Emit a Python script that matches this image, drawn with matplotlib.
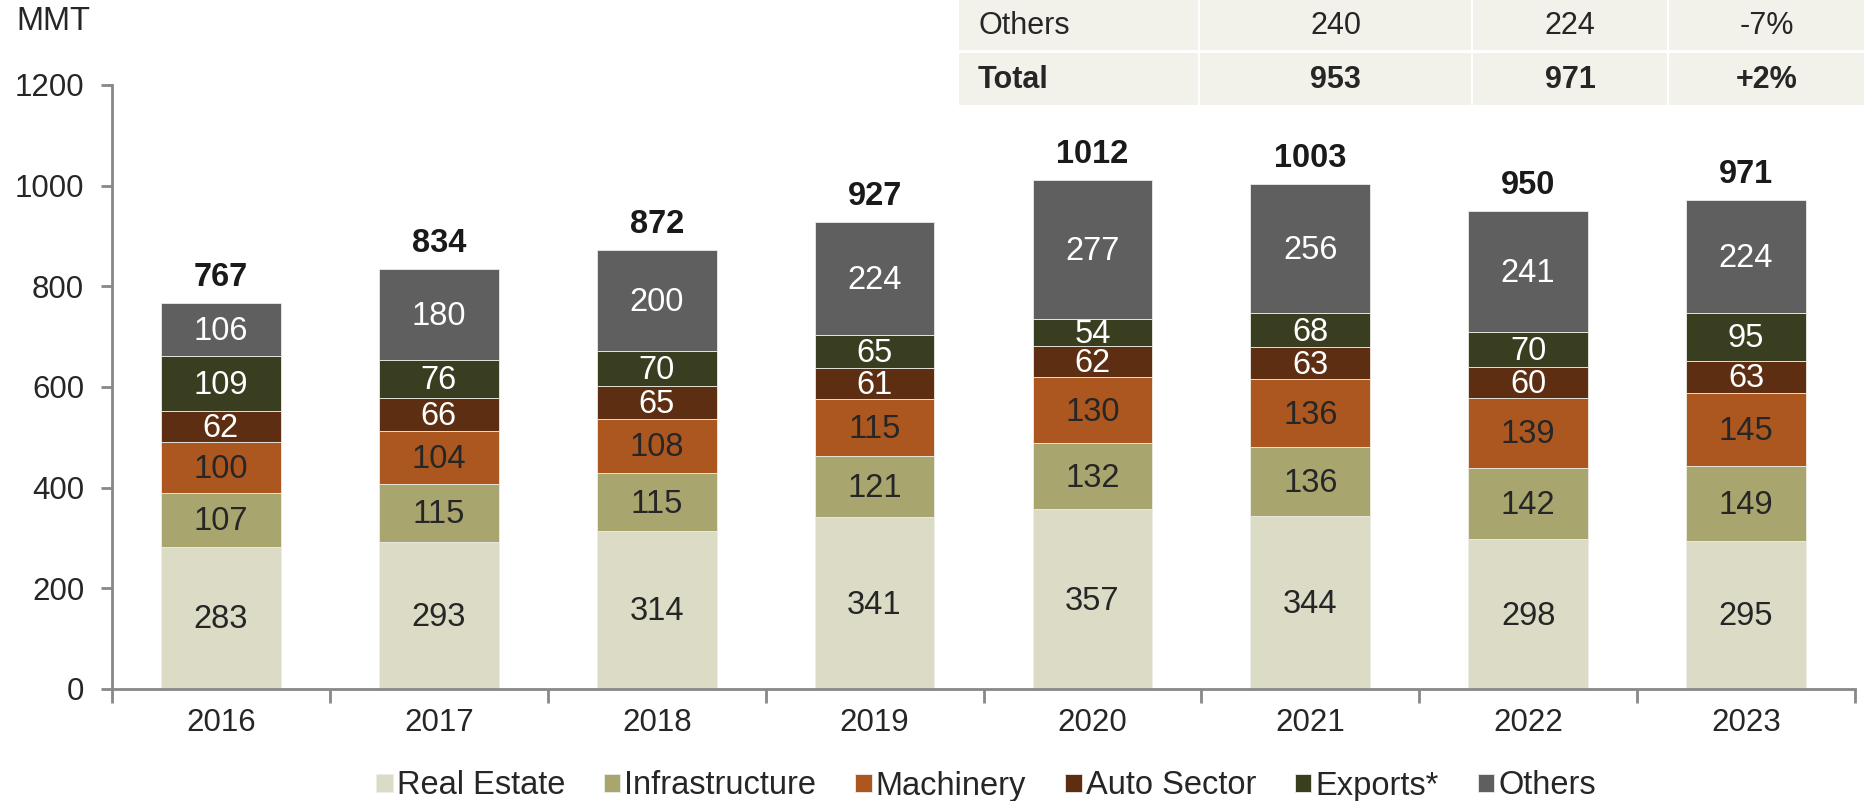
import matplotlib
matplotlib.use("Agg")
import matplotlib.pyplot as plt
from matplotlib.patches import Rectangle
import numpy as np

plt.rcParams["font.family"] = ["Liberation Sans", "DejaVu Sans"]

years = ["2016", "2017", "2018", "2019", "2020", "2021", "2022", "2023"]
series_names = ["Real Estate", "Infrastructure", "Machinery", "Auto Sector", "Exports*", "Others"]
real_estate = [283, 293, 314, 341, 357, 344, 298, 295]
infrastructure = [107, 115, 115, 121, 132, 136, 142, 149]
machinery = [100, 104, 108, 115, 130, 136, 139, 145]
auto_sector = [62, 66, 65, 61, 62, 63, 60, 63]
exports = [109, 76, 70, 65, 54, 68, 70, 95]
others = [106, 180, 200, 224, 277, 256, 241, 224]
totals = [767, 834, 872, 927, 1012, 1003, 950, 971]

table_rows = [
    ["Others", "240", "224", "-7%"],
    ["Total", "953", "971", "+2%"],
]

colors = ["#DCDBC5", "#A9A56F", "#AC5720", "#5E2E12", "#393E20", "#5F5F5F"]
text_colors = ["#262626", "#262626", "#262626", "#FFFFFF", "#FFFFFF", "#FFFFFF"]

W, H = 1864, 801
fig = plt.figure(figsize=(W / 100, H / 100), dpi=100, facecolor="#FFFFFF")
ax = fig.add_axes([112 / W, 1 - 689 / H, (1855 - 112) / W, (689 - 85) / H])

x = np.arange(len(years))
bottom = np.zeros(len(years))
data = [real_estate, infrastructure, machinery, auto_sector, exports, others]
for vals, name, col, tcol in zip(data, series_names, colors, text_colors):
    vals = np.array(vals, dtype=float)
    ax.bar(x, vals, 0.55, bottom=bottom, color=col, label=name,
           edgecolor="#EDEDE6", linewidth=0.6, zorder=2)
    for xi, b, v in zip(x, bottom, vals):
        ax.text(xi, b + v / 2 - 4, f"{int(v)}", ha="center", va="center",
                fontsize=23.5, color=tcol, zorder=3)
    bottom += vals

for xi, t in zip(x, totals):
    ax.text(xi, t + 20, f"{t}", ha="center", va="bottom", fontsize=23.5,
            fontweight="bold", color="#1A1A1A")

ax.set_xlim(-0.5, len(years) - 0.5)
ax.set_ylim(0, 1200)
ax.set_yticks(range(0, 1201, 200))
ax.set_xticks(x)
ax.set_xticklabels(years)
ax.set_xticks(np.arange(-0.5, len(years)), minor=True)
ax.tick_params(axis="x", which="major", length=0, pad=14, labelsize=22.5, labelcolor="#262626")
ax.tick_params(axis="x", which="minor", length=10, width=2, color="#888888")
ax.tick_params(axis="y", length=8, width=2, color="#888888", pad=12, labelsize=22.5, labelcolor="#262626")
for s in ["top", "right"]:
    ax.spines[s].set_visible(False)
for s in ["left", "bottom"]:
    ax.spines[s].set_color("#888888")
    ax.spines[s].set_linewidth(2)

fig.text(16 / W, 1 - 22 / H, "MMT", fontsize=23.5, color="#262626", ha="left", va="center")

# summary table at top right
col_edges = [958, 1199, 1472, 1668, 1866]
row_edges = [(0, 50), (53, 105)]
for r, (row, (y0, y1)) in enumerate(zip(table_rows, row_edges)):
    for c, txt in enumerate(row):
        x0, x1 = col_edges[c] + 1, col_edges[c + 1] - 1
        fig.patches.append(Rectangle((x0 / W, 1 - y1 / H), (x1 - x0) / W, (y1 - y0) / H,
                                     transform=fig.transFigure, facecolor="#F2F1EA",
                                     edgecolor="none", zorder=0))
        weight = "bold" if r == 1 else "normal"
        yc = 1 - (y0 + y1 + 2) / 2 / H
        if c == 0:
            fig.text((x0 + 19) / W, yc, txt, ha="left", va="center", fontsize=22,
                     fontweight=weight, color="#262626")
        else:
            fig.text((x0 + x1) / 2 / W, yc, txt, ha="center", va="center", fontsize=22,
                     fontweight=weight, color="#262626")

leg = fig.legend(loc="center", bbox_to_anchor=(986 / W, 1 - 786 / H), ncol=6, frameon=False,
                 fontsize=23.5, handlelength=0.5, handleheight=0.5, handletextpad=0.12,
                 columnspacing=1.2)
for t in leg.get_texts():
    t.set_color("#262626")

fig.savefig("out.png", dpi=100, facecolor="#FFFFFF")
